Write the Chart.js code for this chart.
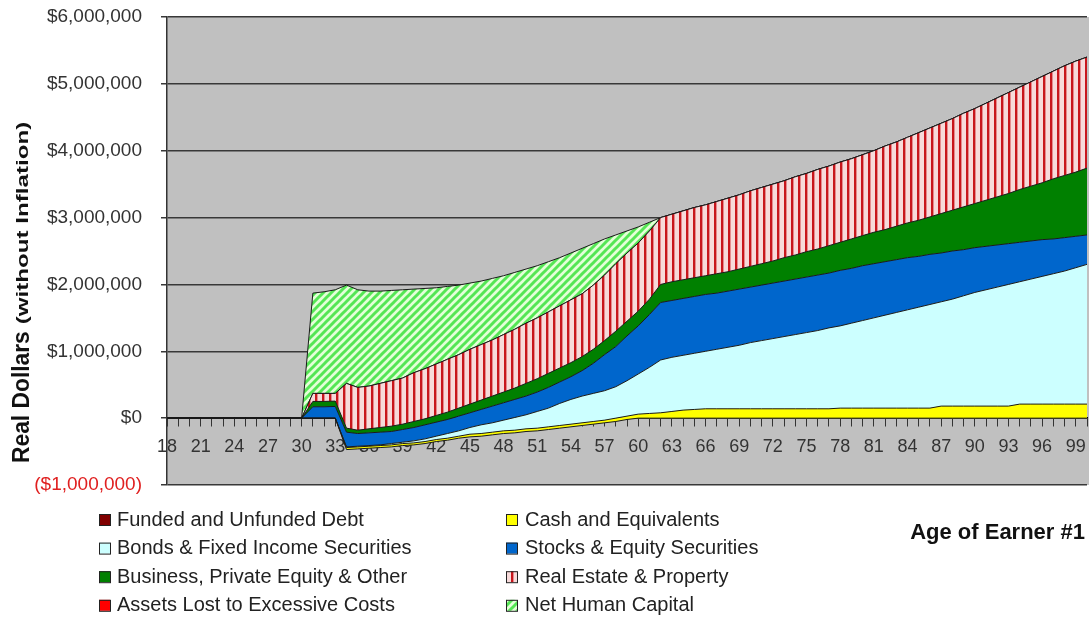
<!DOCTYPE html>
<html><head><meta charset="utf-8">
<script src="https://cdn.jsdelivr.net/npm/chart.js@4.4.0/dist/chart.umd.min.js"></script>
<style>
html,body{margin:0;padding:0;background:#fff;}
#wrap{position:relative;width:1089px;height:619px;}
canvas{display:block;}
</style></head><body>
<div id="wrap"><canvas id="c" width="1089" height="619"></canvas></div>
<script>
// Category axis: age of earner #1
const ages = [
  '18','19','20','21','22','23','24','25','26','27','28','29',
  '30','31','32','33','34','35','36','37','38','39',
  '40','41','42','43','44','45','46','47','48','49',
  '50','51','52','53','54','55','56','57','58','59',
  '60','61','62','63','64','65','66','67','68','69',
  '70','71','72','73','74','75','76','77','78','79',
  '80','81','82','83','84','85','86','87','88','89',
  '90','91','92','93','94','95','96','97','98','99',
  '100'
];

// Series values in thousands of real dollars (ages 18..100)
const debt = [
  0,0,0,0,0,0,0,0,0,0,0,0,
  0,0,0,0,-470,-460,-450,-440,-430,-410,
  -400,-380,-350,-330,-300,-280,-270,-250,-230,-220,
  -200,-190,-170,-150,-130,-110,-90,-70,-50,-20,
  0,0,0,0,0,0,0,0,0,0,
  0,0,0,0,0,0,0,0,0,0,
  0,0,0,0,0,0,0,0,0,0,
  0,0,0,0,0,0,0,0,0,0,
  0
];
const cash = [
  0,0,0,0,0,0,0,0,0,0,0,0,
  0,0,0,0,30,30,30,30,30,30,
  30,30,30,30,30,40,40,40,40,40,
  40,40,40,40,40,40,40,40,50,50,
  60,70,80,100,120,130,140,140,140,140,
  140,140,140,140,140,140,140,140,150,150,
  150,150,150,150,150,150,150,180,180,180,
  180,180,180,180,210,210,210,210,210,210,
  210
];
const bonds = [
  0,0,0,0,0,0,0,0,0,0,0,0,
  0,0,0,0,10,10,10,10,20,20,
  30,40,50,70,80,100,130,140,160,190,
  210,250,280,330,370,400,420,440,470,530,
  600,690,790,810,820,840,860,890,920,950,
  990,1020,1050,1080,1110,1140,1170,1210,1230,1270,
  1310,1350,1390,1430,1470,1510,1550,1560,1600,1650,
  1700,1740,1780,1820,1830,1870,1910,1950,1990,2040,
  2090
];
const stocks = [
  0,0,0,0,0,0,0,0,0,0,0,0,
  0,170,170,175,220,190,190,190,180,190,
  200,210,210,210,220,220,230,250,260,270,
  280,290,310,320,340,380,450,540,600,670,
  720,790,860,850,850,850,850,840,840,840,
  830,830,830,830,830,830,830,820,830,820,
  820,810,800,790,780,760,750,730,720,690,
  670,650,630,610,590,570,550,520,500,470,
  440
];
const business = [
  0,0,0,0,0,0,0,0,0,0,0,0,
  0,80,80,80,60,50,60,70,80,80,
  90,90,100,110,120,130,140,150,160,170,
  190,200,210,210,210,210,210,210,230,220,
  220,230,270,280,280,280,280,290,290,300,
  310,320,330,350,360,380,390,410,420,440,
  450,470,480,500,520,540,560,590,610,640,
  660,690,720,750,790,820,850,900,930,960,
  1000
];
const realEstate = [
  0,0,0,0,0,0,0,0,0,0,0,0,
  0,120,120,115,670,640,640,660,680,690,
  730,750,770,790,800,820,830,840,860,880,
  900,910,920,930,940,940,960,980,1010,1020,
  1020,1020,1000,1010,1030,1050,1060,1080,1100,1110,
  1130,1140,1150,1150,1170,1170,1190,1190,1200,1200,
  1210,1220,1250,1260,1280,1310,1330,1350,1370,1400,
  1420,1450,1480,1510,1530,1560,1590,1610,1640,1660,
  1660
];
const assetsLost = [
  0,0,0,0,0,0,0,0,0,0,0,0,
  0,0,0,0,0,0,0,0,0,0,
  0,0,0,0,0,0,0,0,0,0,
  0,0,0,0,0,0,0,0,0,0,
  0,0,0,0,0,0,0,0,0,0,
  0,0,0,0,0,0,0,0,0,0,
  0,0,0,0,0,0,0,0,0,0,
  0,0,0,0,0,0,0,0,0,0,
  0
];
const humanCapital = [
  0,0,0,0,0,0,0,0,0,0,0,0,
  0,1500,1520,1550,1470,1460,1420,1380,1350,1320,
  1250,1200,1140,1090,1040,990,950,920,880,850,
  810,780,750,720,700,680,620,540,430,330,
  240,130,0,0,0,0,0,0,0,0,
  0,0,0,0,0,0,0,0,0,0,
  0,0,0,0,0,0,0,0,0,0,
  0,0,0,0,0,0,0,0,0,0,
  0
];

const seriesLabels = [
  'Funded and Unfunded Debt','Cash and Equivalents',
  'Bonds & Fixed Income Securities','Stocks & Equity Securities',
  'Business, Private Equity & Other','Real Estate & Property',
  'Assets Lost to Excessive Costs','Net Human Capital'
];
const yTicks = [-1000,0,1000,2000,3000,4000,5000,6000];
const Y_TITLE_MAIN = 'Real Dollars';
const Y_TITLE_SUB = '(without Inflation)';
const X_TITLE = 'Age of Earner #1';

const FONT = '"Liberation Sans", Arial, sans-serif';
const canvas = document.getElementById('c');
const mainCtx = canvas.getContext('2d');

function makeVerticalStripes() {
  const t = document.createElement('canvas'); t.width = 7; t.height = 7;
  const g = t.getContext('2d');
  g.fillStyle = '#f7dada'; g.fillRect(0,0,7,7);
  g.fillStyle = '#c8161c'; g.fillRect(0,0,2.4,7);
  return mainCtx.createPattern(t, 'repeat');
}
function makeDiagonalStripes() {
  const t = document.createElement('canvas'); t.width = 8; t.height = 8;
  const g = t.getContext('2d');
  g.fillStyle = '#e4ffd8'; g.fillRect(0,0,8,8);
  g.strokeStyle = '#55e655'; g.lineWidth = 3;
  for (let c = -8; c <= 24; c += 8) {
    g.beginPath(); g.moveTo(c + 8, -8); g.lineTo(c - 16, 16); g.stroke();
  }
  return mainCtx.createPattern(t, 'repeat');
}
const rePattern = makeVerticalStripes();
const hcPattern = makeDiagonalStripes();

const fills = ['#800000','#ffff00','#ccffff','#0066cc','#008000',rePattern,'#ff0000',hcPattern];
const values = [debt, cash, bonds, stocks, business, realEstate, assetsLost, humanCapital];

const datasets = values.map((v, i) => ({
  label: seriesLabels[i],
  data: v,
  backgroundColor: fills[i],
  swatch: fills[i],
  borderColor: '#1a1a1a',
  borderWidth: 1,
  fill: i === 0 ? false : '-1',
  pointRadius: 0,
  tension: 0
}));

const bgPlugin = {
  id: 'bg',
  beforeDraw(chart) {
    const {ctx, chartArea: a} = chart;
    ctx.save();
    ctx.fillStyle = '#fff'; ctx.fillRect(0,0,chart.width,chart.height);
    ctx.fillStyle = '#c0c0c0';
    ctx.fillRect(a.left, a.top, chart.width - a.left, a.bottom - a.top);
    ctx.restore();
  }
};
const textPlugin = {
  id: 'texts',
  afterDraw(chart) {
    const ctx = chart.ctx;
    ctx.save();
    // Y title
    ctx.translate(29, 463);
    ctx.rotate(-Math.PI/2);
    ctx.fillStyle = '#111';
    ctx.textAlign = 'left'; ctx.textBaseline = 'alphabetic';
    ctx.font = 'bold 24px ' + FONT;
    ctx.save();
    ctx.scale(0.95, 1);
    ctx.fillText(Y_TITLE_MAIN, 0, 0);
    const w = ctx.measureText(Y_TITLE_MAIN).width * 0.95;
    ctx.restore();
    ctx.font = 'bold 17px ' + FONT;
    ctx.translate(w + 7, -1);
    ctx.scale(1.42, 1);
    ctx.fillText(Y_TITLE_SUB, 0, 0);
    ctx.restore();

    // Legend (2 columns)
    ctx.save();
    ctx.font = '20px ' + FONT;
    ctx.textBaseline = 'middle'; ctx.textAlign = 'left';
    chart.data.datasets.forEach((d, i) => {
      const col = i % 2, row = Math.floor(i / 2);
      const sx = col ? 506 : 99, tx = col ? 525 : 117;
      const cy = 520 + row * 28.6;
      ctx.fillStyle = d.swatch; ctx.fillRect(sx, cy - 6, 11, 11);
      ctx.strokeStyle = '#222'; ctx.lineWidth = 1;
      ctx.strokeRect(sx + 0.5, cy - 5.5, 11, 11);
      ctx.fillStyle = '#222'; ctx.fillText(d.label, tx, cy);
    });
    ctx.font = 'bold 22px ' + FONT;
    ctx.textAlign = 'right';
    ctx.fillStyle = '#111';
    ctx.fillText(X_TITLE, 1085, 533);
    ctx.restore();
  }
};

function money(v) {
  const s = '$' + Math.abs(v * 1000).toLocaleString('en-US');
  return v < 0 ? '(' + s + ')' : s;
}

new Chart(canvas, {
  type: 'line',
  data: { labels: ages, datasets },
  plugins: [bgPlugin, textPlugin],
  options: {
    responsive: false,
    devicePixelRatio: 1,
    animation: false,
    layout: { padding: { left: 0, right: 2, top: 17, bottom: 134 } },
    plugins: { legend: { display: false }, tooltip: { enabled: false }, title: { display: false } },
    elements: { line: { tension: 0 }, point: { radius: 0 } },
    scales: {
      x: {
        type: 'category',
        position: { y: 0 },
        offset: false,
        afterFit: (s) => { s.paddingLeft = 0; s.paddingRight = 0; },
        grid: { drawOnChartArea: false, drawTicks: true, tickLength: 8, color: '#333', lineWidth: 1 },
        border: { display: true, color: '#000', width: 1.5 },
        ticks: {
          autoSkip: false, maxRotation: 0, minRotation: 0, padding: 10,
          color: '#333', font: { family: FONT, size: 18 },
          callback: (val, idx) => (idx % 3 === 0 ? ages[idx] : '')
        }
      },
      y: {
        stacked: 'single',
        min: -1000, max: 6000,
        afterFit: (s) => { s.width = 167; s.paddingTop = 0; s.paddingBottom = 0; },
        afterBuildTicks: (s) => { s.ticks = yTicks.map(v => ({ value: v })); },
        grid: { color: '#383838', lineWidth: 1.5, tickLength: 6, drawTicks: true },
        border: { display: true, color: '#333', width: 1.5 },
        ticks: {
          padding: 19,
          font: { family: FONT, size: 19 },
          color: (c) => (c.tick && c.tick.value < 0 ? '#e02020' : '#333'),
          callback: (v) => money(v)
        }
      }
    }
  }
});
</script>
</body></html>
